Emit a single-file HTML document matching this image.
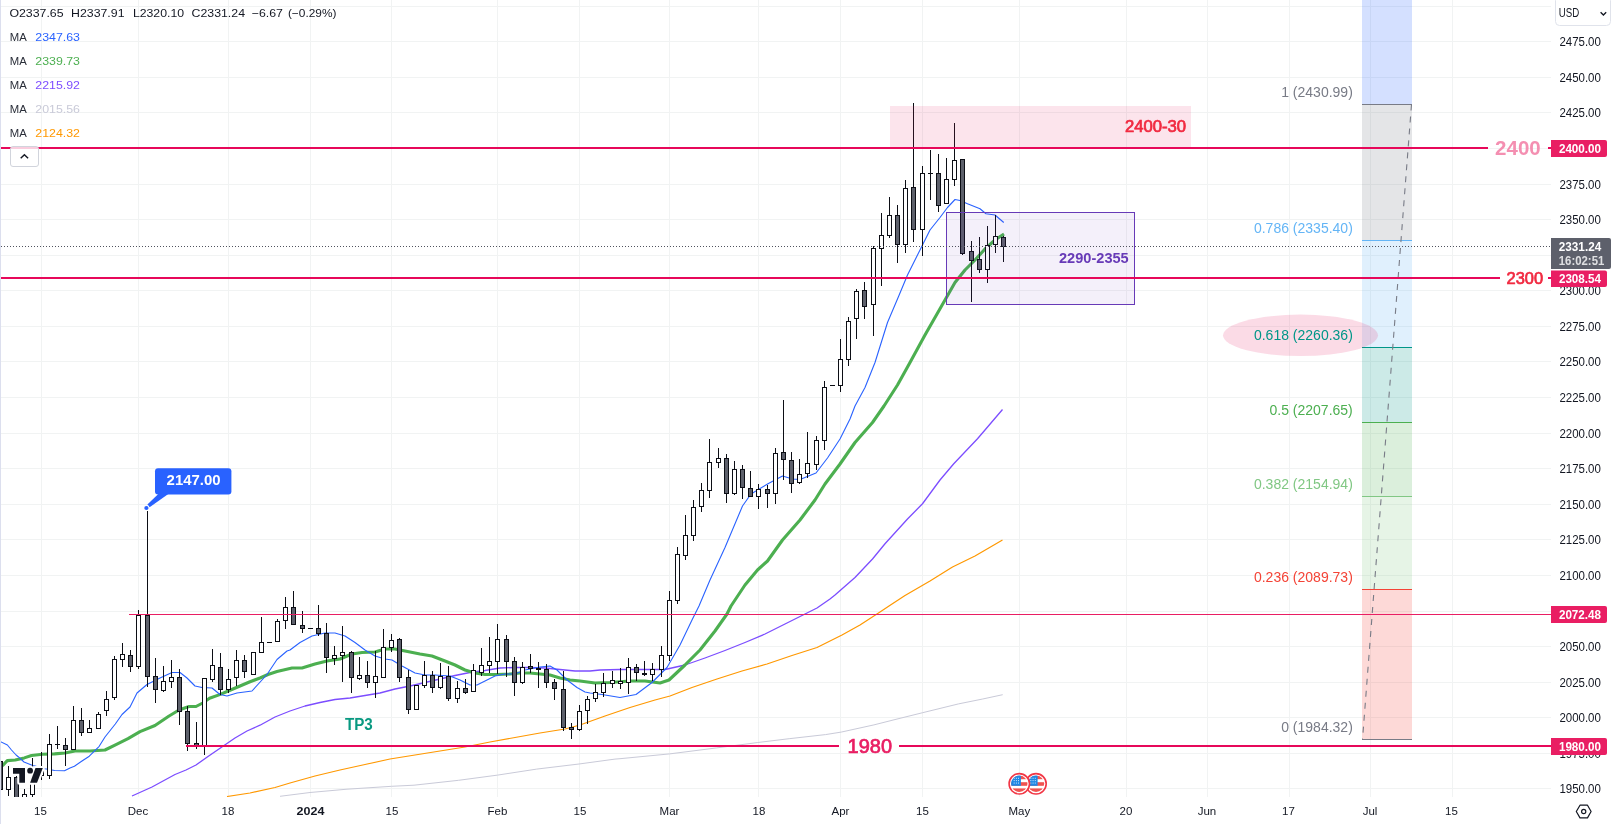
<!DOCTYPE html><html><head><meta charset="utf-8"><title>Chart</title><style>html,body{margin:0;padding:0;background:#fff;overflow:hidden}svg{display:block;will-change:transform}text{font-family:"Liberation Sans",sans-serif}</style></head><body>
<svg width="1613" height="824" viewBox="0 0 1613 824">
<defs><clipPath id="pane"><rect x="0" y="0" width="1551" height="797"/></clipPath><clipPath id="fl"><circle cx="0" cy="0" r="8.2"/></clipPath></defs>
<rect width="1613" height="824" fill="#fff"/>
<g shape-rendering="crispEdges" stroke="#f1f3f3" stroke-width="1">
<line x1="41.5" y1="0" x2="41.5" y2="797"/>
<line x1="138.5" y1="0" x2="138.5" y2="797"/>
<line x1="228.5" y1="0" x2="228.5" y2="797"/>
<line x1="310.5" y1="0" x2="310.5" y2="797"/>
<line x1="391.5" y1="0" x2="391.5" y2="797"/>
<line x1="497.5" y1="0" x2="497.5" y2="797"/>
<line x1="579.5" y1="0" x2="579.5" y2="797"/>
<line x1="669.5" y1="0" x2="669.5" y2="797"/>
<line x1="758.5" y1="0" x2="758.5" y2="797"/>
<line x1="840.5" y1="0" x2="840.5" y2="797"/>
<line x1="922.5" y1="0" x2="922.5" y2="797"/>
<line x1="1019.5" y1="0" x2="1019.5" y2="797"/>
<line x1="1126.5" y1="0" x2="1126.5" y2="797"/>
<line x1="1207.5" y1="0" x2="1207.5" y2="797"/>
<line x1="1289.5" y1="0" x2="1289.5" y2="797"/>
<line x1="1370.5" y1="0" x2="1370.5" y2="797"/>
<line x1="1452.5" y1="0" x2="1452.5" y2="797"/>
<line x1="0" y1="6.5" x2="1551" y2="6.5"/>
<line x1="0" y1="41.5" x2="1551" y2="41.5"/>
<line x1="0" y1="77.5" x2="1551" y2="77.5"/>
<line x1="0" y1="112.5" x2="1551" y2="112.5"/>
<line x1="0" y1="148.5" x2="1551" y2="148.5"/>
<line x1="0" y1="184.5" x2="1551" y2="184.5"/>
<line x1="0" y1="219.5" x2="1551" y2="219.5"/>
<line x1="0" y1="255.5" x2="1551" y2="255.5"/>
<line x1="0" y1="290.5" x2="1551" y2="290.5"/>
<line x1="0" y1="326.5" x2="1551" y2="326.5"/>
<line x1="0" y1="361.5" x2="1551" y2="361.5"/>
<line x1="0" y1="397.5" x2="1551" y2="397.5"/>
<line x1="0" y1="433.5" x2="1551" y2="433.5"/>
<line x1="0" y1="468.5" x2="1551" y2="468.5"/>
<line x1="0" y1="504.5" x2="1551" y2="504.5"/>
<line x1="0" y1="539.5" x2="1551" y2="539.5"/>
<line x1="0" y1="575.5" x2="1551" y2="575.5"/>
<line x1="0" y1="611.5" x2="1551" y2="611.5"/>
<line x1="0" y1="646.5" x2="1551" y2="646.5"/>
<line x1="0" y1="682.5" x2="1551" y2="682.5"/>
<line x1="0" y1="717.5" x2="1551" y2="717.5"/>
<line x1="0" y1="753.5" x2="1551" y2="753.5"/>
<line x1="0" y1="788.5" x2="1551" y2="788.5"/>
</g>
<g clip-path="url(#pane)">
<polyline points="280,796.3 310,792.5 347,789.2 391.6,786.3 414,785.2 458.6,780.3 497.6,775.1 536.7,769.1 579,764 615,759.1 620,758.7 669.6,753.9 716.7,747.9 757.8,742.5 789.2,738.7 825.5,734.6 841.2,732.1 873.9,724.9 898,718.8 922.2,712.8 958.5,703.9 982.7,699 1002.7,694.7" fill="none" stroke="#c9cad8" stroke-width="1" stroke-linejoin="round" stroke-linecap="butt" />
<polyline points="227,796.5 250,793 275,787.5 290,783 315,776 340,770 365,764.5 390,759 415,755 440,751 465,747 490,742 515,737.5 540,733 565,729 580,725 605,716 630,707.5 655,700 670,696 692,687.5 717,679 742,671 767,664 792,655.5 817,647.5 842,635 860,625 880,612 889,606 905,595.5 930,581 952.5,567 975,556 1002.5,540" fill="none" stroke="#ff9800" stroke-width="1.2" stroke-linejoin="round" stroke-linecap="butt" />
<polyline points="132,796 152,787 175,774.5 186,770 196,765 208,756.5 221.5,747.2 235,738 247,731 260,725.2 275,717 290,711 305,706 320,702.5 335,699.5 350,698 365,695.5 380,693 395,689 410,686 425,682.5 440,679 455,675.5 470,672.5 485,670.5 500,668 515,667.5 530,667.5 545,668 560,669.5 575,671 590,671 600,670 620,669.5 642,669.5 665,669.5 685,665 705,658 725,650.5 745,642.5 765,634 785,624 805,614 817,608 830,599 835,595 855,577.5 872.5,559 885,543.75 907.5,519 922.5,503.75 940,480 953.75,463.75 977.5,438.75 1002.5,409.5" fill="none" stroke="#7c4dff" stroke-width="1.3" stroke-linejoin="round" stroke-linecap="butt" />
<polyline points="0.5,766 3,765.2 7.3,760.6 15.2,760 24.3,757.9 31.5,755.5 42.4,754.2 54.6,753.9 65,753 75,751 90,751 105,750 116,744.7 128,738.7 140,731.6 155,725.5 168.7,716.3 179,710 189,706.5 196,706.5 202.7,703 209.5,698.3 219.7,694.6 230,690.3 240,686 250,681.8 260,678 268,674.5 277,671.5 292,668 302,668 315,664 327,661 340,659 352,654 362,652.5 375,652 385,649 395,649 405,651 420,654 432,656 445,661 455,665 465,670 475,673 485,674.5 497,674.5 510,674 520,673 530,673 540,674 550,675 560,678 570,680 580,681 595,683 610,682.5 630,681 645,681 660,683 669,680 685,665 700,650 715,631 727,614 731,606 745,585 757.5,570 767.5,561 782.5,540 800,520 815,500 825,484 840,464 855,442.5 872.5,422.5 884,406 897.5,385 910,362.5 925,335 935,317.5 945,300 955,282.5 965,270 975,260 985,249 995,240 1004,234" fill="none" stroke="#4caf50" stroke-width="3.1" stroke-linejoin="round" stroke-linecap="butt" />
<polyline points="0,741.5 7.4,745 11.5,750 16.1,755 18.2,756.7 24,762 32.7,765.5 35,766 45,768.8 54.6,770.5 64.5,770.8 70,768 74.4,766.2 82,761 89.3,756.2 99.2,746.3 105,737 115.3,724 122,714.5 130,707 137,693 147,684.5 160,678 172,672.5 180,672.5 187,678 195,686 202,687.5 212,688 220,694.5 227,696 237,693 252,691 267,674.5 277,659.5 287,651 290,650 300,642.5 312,636 325,633 335,633 345,636 355,642.5 365,650 375,656 385,659 392,660 402,666 415,673 425,675 435,675 450,676 460,680 470,685 477,685 485,681 495,676 505,674 515,674 525,670 540,667 550,666 557,670 567,680 577,687.5 585,692 590,693 602,694.5 620,697.5 636,694.5 652,682.5 667,667.5 680,645 692,620 699,606 710,580 725,547.5 742.5,506 751,494 767.5,484 782.5,476 792.5,479 800,479.5 816,473 827.5,458 840,439 850,419 855,406 865,387.5 875,362.5 887.5,322.5 898.75,296 907.5,275 920,250 930,230 940,217.5 947.5,207.5 955,199.5 960,200.5 967.5,203.75 980,208.75 986,213.75 995,215 1003.75,222.5" fill="none" stroke="#2962ff" stroke-width="1.1" stroke-linejoin="round" stroke-linecap="butt" />
<g shape-rendering="crispEdges">
<rect x="0.0" y="762" width="1" height="28" fill="#0c0e15"/>
<rect x="-2.0" y="761" width="5" height="29" fill="#0c0e15"/>
<rect x="-1.0" y="762" width="3" height="27" fill="#5d606b"/>
<rect x="8.0" y="766" width="1" height="30" fill="#0c0e15"/>
<rect x="6.0" y="777" width="5" height="13" fill="#0c0e15"/>
<rect x="7.0" y="778" width="3" height="11" fill="#ffffff"/>
<rect x="16.0" y="776" width="1" height="24" fill="#0c0e15"/>
<rect x="14.0" y="777" width="5" height="23" fill="#0c0e15"/>
<rect x="15.0" y="778" width="3" height="21" fill="#5d606b"/>
<rect x="24.0" y="789" width="1" height="11" fill="#0c0e15"/>
<rect x="22.0" y="794" width="5" height="6" fill="#0c0e15"/>
<rect x="23.0" y="795" width="3" height="4" fill="#ffffff"/>
<rect x="32.0" y="758" width="1" height="39" fill="#0c0e15"/>
<rect x="30.0" y="779" width="5" height="16" fill="#0c0e15"/>
<rect x="31.0" y="780" width="3" height="14" fill="#ffffff"/>
<rect x="41.0" y="752" width="1" height="28" fill="#0c0e15"/>
<rect x="39.0" y="771" width="5" height="5" fill="#0c0e15"/>
<rect x="40.0" y="772" width="3" height="3" fill="#ffffff"/>
<rect x="49.0" y="734" width="1" height="45" fill="#0c0e15"/>
<rect x="47.0" y="744" width="5" height="32" fill="#0c0e15"/>
<rect x="48.0" y="745" width="3" height="30" fill="#ffffff"/>
<rect x="57.0" y="726" width="1" height="23" fill="#0c0e15"/>
<rect x="55.0" y="744" width="5" height="1" fill="#0c0e15"/>
<rect x="65.0" y="738" width="1" height="28" fill="#0c0e15"/>
<rect x="63.0" y="745" width="5" height="5" fill="#0c0e15"/>
<rect x="64.0" y="746" width="3" height="3" fill="#5d606b"/>
<rect x="73.0" y="706" width="1" height="44" fill="#0c0e15"/>
<rect x="71.0" y="720" width="5" height="30" fill="#0c0e15"/>
<rect x="72.0" y="721" width="3" height="28" fill="#ffffff"/>
<rect x="81.0" y="708" width="1" height="28" fill="#0c0e15"/>
<rect x="79.0" y="720" width="5" height="13" fill="#0c0e15"/>
<rect x="80.0" y="721" width="3" height="11" fill="#5d606b"/>
<rect x="89.0" y="720" width="1" height="13" fill="#0c0e15"/>
<rect x="87.0" y="728" width="5" height="5" fill="#0c0e15"/>
<rect x="88.0" y="729" width="3" height="3" fill="#ffffff"/>
<rect x="98.0" y="712" width="1" height="17" fill="#0c0e15"/>
<rect x="96.0" y="714" width="5" height="15" fill="#0c0e15"/>
<rect x="97.0" y="715" width="3" height="13" fill="#ffffff"/>
<rect x="106.0" y="691" width="1" height="25" fill="#0c0e15"/>
<rect x="104.0" y="699" width="5" height="12" fill="#0c0e15"/>
<rect x="105.0" y="700" width="3" height="10" fill="#ffffff"/>
<rect x="114.0" y="656" width="1" height="44" fill="#0c0e15"/>
<rect x="112.0" y="659" width="5" height="39" fill="#0c0e15"/>
<rect x="113.0" y="660" width="3" height="37" fill="#ffffff"/>
<rect x="122.0" y="643" width="1" height="24" fill="#0c0e15"/>
<rect x="120.0" y="654" width="5" height="6" fill="#0c0e15"/>
<rect x="121.0" y="655" width="3" height="4" fill="#ffffff"/>
<rect x="130.0" y="650" width="1" height="22" fill="#0c0e15"/>
<rect x="128.0" y="655" width="5" height="12" fill="#0c0e15"/>
<rect x="129.0" y="656" width="3" height="10" fill="#5d606b"/>
<rect x="138.0" y="610" width="1" height="59" fill="#0c0e15"/>
<rect x="136.0" y="615" width="5" height="52" fill="#0c0e15"/>
<rect x="137.0" y="616" width="3" height="50" fill="#ffffff"/>
<rect x="147.0" y="511" width="1" height="176" fill="#0c0e15"/>
<rect x="145.0" y="615" width="5" height="62" fill="#0c0e15"/>
<rect x="146.0" y="616" width="3" height="60" fill="#5d606b"/>
<rect x="155.0" y="658" width="1" height="45" fill="#0c0e15"/>
<rect x="153.0" y="676" width="5" height="14" fill="#0c0e15"/>
<rect x="154.0" y="677" width="3" height="12" fill="#5d606b"/>
<rect x="163.0" y="666" width="1" height="26" fill="#0c0e15"/>
<rect x="161.0" y="681" width="5" height="10" fill="#0c0e15"/>
<rect x="162.0" y="682" width="3" height="8" fill="#ffffff"/>
<rect x="171.0" y="660" width="1" height="28" fill="#0c0e15"/>
<rect x="169.0" y="677" width="5" height="5" fill="#0c0e15"/>
<rect x="170.0" y="678" width="3" height="3" fill="#ffffff"/>
<rect x="179.0" y="669" width="1" height="56" fill="#0c0e15"/>
<rect x="177.0" y="677" width="5" height="35" fill="#0c0e15"/>
<rect x="178.0" y="678" width="3" height="33" fill="#5d606b"/>
<rect x="187.0" y="706" width="1" height="45" fill="#0c0e15"/>
<rect x="185.0" y="711" width="5" height="33" fill="#0c0e15"/>
<rect x="186.0" y="712" width="3" height="31" fill="#5d606b"/>
<rect x="196.0" y="722" width="1" height="27" fill="#0c0e15"/>
<rect x="194.0" y="743" width="5" height="3" fill="#0c0e15"/>
<rect x="195.0" y="744" width="3" height="1" fill="#5d606b"/>
<rect x="204.0" y="678" width="1" height="77" fill="#0c0e15"/>
<rect x="202.0" y="678" width="5" height="68" fill="#0c0e15"/>
<rect x="203.0" y="679" width="3" height="66" fill="#ffffff"/>
<rect x="212.0" y="649" width="1" height="33" fill="#0c0e15"/>
<rect x="210.0" y="665" width="5" height="15" fill="#0c0e15"/>
<rect x="211.0" y="666" width="3" height="13" fill="#ffffff"/>
<rect x="220.0" y="653" width="1" height="42" fill="#0c0e15"/>
<rect x="218.0" y="667" width="5" height="23" fill="#0c0e15"/>
<rect x="219.0" y="668" width="3" height="21" fill="#5d606b"/>
<rect x="228.0" y="669" width="1" height="24" fill="#0c0e15"/>
<rect x="226.0" y="679" width="5" height="11" fill="#0c0e15"/>
<rect x="227.0" y="680" width="3" height="9" fill="#ffffff"/>
<rect x="236.0" y="650" width="1" height="36" fill="#0c0e15"/>
<rect x="234.0" y="660" width="5" height="18" fill="#0c0e15"/>
<rect x="235.0" y="661" width="3" height="16" fill="#ffffff"/>
<rect x="244.0" y="655" width="1" height="23" fill="#0c0e15"/>
<rect x="242.0" y="660" width="5" height="12" fill="#0c0e15"/>
<rect x="243.0" y="661" width="3" height="10" fill="#5d606b"/>
<rect x="253.0" y="652" width="1" height="23" fill="#0c0e15"/>
<rect x="251.0" y="652" width="5" height="23" fill="#0c0e15"/>
<rect x="252.0" y="653" width="3" height="21" fill="#ffffff"/>
<rect x="261.0" y="617" width="1" height="36" fill="#0c0e15"/>
<rect x="259.0" y="642" width="5" height="11" fill="#0c0e15"/>
<rect x="260.0" y="643" width="3" height="9" fill="#ffffff"/>
<rect x="267.0" y="642" width="5" height="1" fill="#0c0e15"/>
<rect x="277.0" y="619" width="1" height="23" fill="#0c0e15"/>
<rect x="275.0" y="621" width="5" height="21" fill="#0c0e15"/>
<rect x="276.0" y="622" width="3" height="19" fill="#ffffff"/>
<rect x="285.0" y="597" width="1" height="32" fill="#0c0e15"/>
<rect x="283.0" y="607" width="5" height="14" fill="#0c0e15"/>
<rect x="284.0" y="608" width="3" height="12" fill="#ffffff"/>
<rect x="293.0" y="591" width="1" height="34" fill="#0c0e15"/>
<rect x="291.0" y="607" width="5" height="18" fill="#0c0e15"/>
<rect x="292.0" y="608" width="3" height="16" fill="#5d606b"/>
<rect x="302.0" y="611" width="1" height="22" fill="#0c0e15"/>
<rect x="300.0" y="625" width="5" height="4" fill="#0c0e15"/>
<rect x="301.0" y="626" width="3" height="2" fill="#5d606b"/>
<rect x="308.0" y="628" width="5" height="1" fill="#0c0e15"/>
<rect x="318.0" y="605" width="1" height="31" fill="#0c0e15"/>
<rect x="316.0" y="628" width="5" height="6" fill="#0c0e15"/>
<rect x="317.0" y="629" width="3" height="4" fill="#5d606b"/>
<rect x="326.0" y="623" width="1" height="50" fill="#0c0e15"/>
<rect x="324.0" y="633" width="5" height="25" fill="#0c0e15"/>
<rect x="325.0" y="634" width="3" height="23" fill="#5d606b"/>
<rect x="334.0" y="646" width="1" height="19" fill="#0c0e15"/>
<rect x="332.0" y="655" width="5" height="4" fill="#0c0e15"/>
<rect x="333.0" y="656" width="3" height="2" fill="#ffffff"/>
<rect x="342.0" y="626" width="1" height="56" fill="#0c0e15"/>
<rect x="340.0" y="652" width="5" height="4" fill="#0c0e15"/>
<rect x="341.0" y="653" width="3" height="2" fill="#ffffff"/>
<rect x="351.0" y="651" width="1" height="42" fill="#0c0e15"/>
<rect x="349.0" y="652" width="5" height="26" fill="#0c0e15"/>
<rect x="350.0" y="653" width="3" height="24" fill="#5d606b"/>
<rect x="359.0" y="657" width="1" height="23" fill="#0c0e15"/>
<rect x="357.0" y="675" width="5" height="4" fill="#0c0e15"/>
<rect x="358.0" y="676" width="3" height="2" fill="#ffffff"/>
<rect x="367.0" y="661" width="1" height="27" fill="#0c0e15"/>
<rect x="365.0" y="675" width="5" height="8" fill="#0c0e15"/>
<rect x="366.0" y="676" width="3" height="6" fill="#5d606b"/>
<rect x="375.0" y="651" width="1" height="47" fill="#0c0e15"/>
<rect x="373.0" y="676" width="5" height="7" fill="#0c0e15"/>
<rect x="374.0" y="677" width="3" height="5" fill="#ffffff"/>
<rect x="383.0" y="629" width="1" height="49" fill="#0c0e15"/>
<rect x="381.0" y="647" width="5" height="31" fill="#0c0e15"/>
<rect x="382.0" y="648" width="3" height="29" fill="#ffffff"/>
<rect x="391.0" y="634" width="1" height="18" fill="#0c0e15"/>
<rect x="389.0" y="640" width="5" height="8" fill="#0c0e15"/>
<rect x="390.0" y="641" width="3" height="6" fill="#ffffff"/>
<rect x="399.0" y="638" width="1" height="44" fill="#0c0e15"/>
<rect x="397.0" y="639" width="5" height="39" fill="#0c0e15"/>
<rect x="398.0" y="640" width="3" height="37" fill="#5d606b"/>
<rect x="408.0" y="670" width="1" height="44" fill="#0c0e15"/>
<rect x="406.0" y="677" width="5" height="33" fill="#0c0e15"/>
<rect x="407.0" y="678" width="3" height="31" fill="#5d606b"/>
<rect x="416.0" y="685" width="1" height="25" fill="#0c0e15"/>
<rect x="414.0" y="685" width="5" height="25" fill="#0c0e15"/>
<rect x="415.0" y="686" width="3" height="23" fill="#ffffff"/>
<rect x="424.0" y="661" width="1" height="27" fill="#0c0e15"/>
<rect x="422.0" y="675" width="5" height="11" fill="#0c0e15"/>
<rect x="423.0" y="676" width="3" height="9" fill="#ffffff"/>
<rect x="432.0" y="671" width="1" height="22" fill="#0c0e15"/>
<rect x="430.0" y="675" width="5" height="13" fill="#0c0e15"/>
<rect x="431.0" y="676" width="3" height="11" fill="#5d606b"/>
<rect x="440.0" y="663" width="1" height="26" fill="#0c0e15"/>
<rect x="438.0" y="676" width="5" height="12" fill="#0c0e15"/>
<rect x="439.0" y="677" width="3" height="10" fill="#ffffff"/>
<rect x="448.0" y="666" width="1" height="35" fill="#0c0e15"/>
<rect x="446.0" y="676" width="5" height="23" fill="#0c0e15"/>
<rect x="447.0" y="677" width="3" height="21" fill="#5d606b"/>
<rect x="457.0" y="681" width="1" height="22" fill="#0c0e15"/>
<rect x="455.0" y="688" width="5" height="11" fill="#0c0e15"/>
<rect x="456.0" y="689" width="3" height="9" fill="#ffffff"/>
<rect x="465.0" y="679" width="1" height="15" fill="#0c0e15"/>
<rect x="463.0" y="688" width="5" height="5" fill="#0c0e15"/>
<rect x="464.0" y="689" width="3" height="3" fill="#5d606b"/>
<rect x="473.0" y="664" width="1" height="28" fill="#0c0e15"/>
<rect x="471.0" y="670" width="5" height="22" fill="#0c0e15"/>
<rect x="472.0" y="671" width="3" height="20" fill="#ffffff"/>
<rect x="481.0" y="648" width="1" height="28" fill="#0c0e15"/>
<rect x="479.0" y="665" width="5" height="8" fill="#0c0e15"/>
<rect x="480.0" y="666" width="3" height="6" fill="#ffffff"/>
<rect x="489.0" y="637" width="1" height="36" fill="#0c0e15"/>
<rect x="487.0" y="661" width="5" height="5" fill="#0c0e15"/>
<rect x="488.0" y="662" width="3" height="3" fill="#ffffff"/>
<rect x="497.0" y="624" width="1" height="50" fill="#0c0e15"/>
<rect x="495.0" y="639" width="5" height="23" fill="#0c0e15"/>
<rect x="496.0" y="640" width="3" height="21" fill="#ffffff"/>
<rect x="506.0" y="635" width="1" height="42" fill="#0c0e15"/>
<rect x="504.0" y="639" width="5" height="23" fill="#0c0e15"/>
<rect x="505.0" y="640" width="3" height="21" fill="#5d606b"/>
<rect x="514.0" y="657" width="1" height="39" fill="#0c0e15"/>
<rect x="512.0" y="661" width="5" height="22" fill="#0c0e15"/>
<rect x="513.0" y="662" width="3" height="20" fill="#5d606b"/>
<rect x="522.0" y="662" width="1" height="22" fill="#0c0e15"/>
<rect x="520.0" y="667" width="5" height="16" fill="#0c0e15"/>
<rect x="521.0" y="668" width="3" height="14" fill="#ffffff"/>
<rect x="530.0" y="654" width="1" height="19" fill="#0c0e15"/>
<rect x="528.0" y="666" width="5" height="3" fill="#0c0e15"/>
<rect x="529.0" y="667" width="3" height="1" fill="#5d606b"/>
<rect x="538.0" y="662" width="1" height="26" fill="#0c0e15"/>
<rect x="536.0" y="668" width="5" height="2" fill="#0c0e15"/>
<rect x="546.0" y="664" width="1" height="24" fill="#0c0e15"/>
<rect x="544.0" y="669" width="5" height="14" fill="#0c0e15"/>
<rect x="545.0" y="670" width="3" height="12" fill="#5d606b"/>
<rect x="554.0" y="679" width="1" height="21" fill="#0c0e15"/>
<rect x="552.0" y="682" width="5" height="7" fill="#0c0e15"/>
<rect x="553.0" y="683" width="3" height="5" fill="#5d606b"/>
<rect x="563.0" y="671" width="1" height="60" fill="#0c0e15"/>
<rect x="561.0" y="689" width="5" height="39" fill="#0c0e15"/>
<rect x="562.0" y="690" width="3" height="37" fill="#5d606b"/>
<rect x="571.0" y="723" width="1" height="16" fill="#0c0e15"/>
<rect x="569.0" y="727" width="5" height="3" fill="#0c0e15"/>
<rect x="570.0" y="728" width="3" height="1" fill="#5d606b"/>
<rect x="579.0" y="705" width="1" height="26" fill="#0c0e15"/>
<rect x="577.0" y="711" width="5" height="19" fill="#0c0e15"/>
<rect x="578.0" y="712" width="3" height="17" fill="#ffffff"/>
<rect x="587.0" y="696" width="1" height="28" fill="#0c0e15"/>
<rect x="585.0" y="699" width="5" height="12" fill="#0c0e15"/>
<rect x="586.0" y="700" width="3" height="10" fill="#ffffff"/>
<rect x="595.0" y="684" width="1" height="18" fill="#0c0e15"/>
<rect x="593.0" y="692" width="5" height="7" fill="#0c0e15"/>
<rect x="594.0" y="693" width="3" height="5" fill="#ffffff"/>
<rect x="603.0" y="673" width="1" height="24" fill="#0c0e15"/>
<rect x="601.0" y="683" width="5" height="10" fill="#0c0e15"/>
<rect x="602.0" y="684" width="3" height="8" fill="#ffffff"/>
<rect x="612.0" y="671" width="1" height="17" fill="#0c0e15"/>
<rect x="610.0" y="680" width="5" height="4" fill="#0c0e15"/>
<rect x="611.0" y="681" width="3" height="2" fill="#ffffff"/>
<rect x="620.0" y="668" width="1" height="21" fill="#0c0e15"/>
<rect x="618.0" y="681" width="5" height="3" fill="#0c0e15"/>
<rect x="619.0" y="682" width="3" height="1" fill="#ffffff"/>
<rect x="628.0" y="658" width="1" height="36" fill="#0c0e15"/>
<rect x="626.0" y="667" width="5" height="16" fill="#0c0e15"/>
<rect x="627.0" y="668" width="3" height="14" fill="#ffffff"/>
<rect x="636.0" y="664" width="1" height="17" fill="#0c0e15"/>
<rect x="634.0" y="667" width="5" height="6" fill="#0c0e15"/>
<rect x="635.0" y="668" width="3" height="4" fill="#5d606b"/>
<rect x="644.0" y="661" width="1" height="15" fill="#0c0e15"/>
<rect x="642.0" y="673" width="5" height="2" fill="#0c0e15"/>
<rect x="652.0" y="663" width="1" height="18" fill="#0c0e15"/>
<rect x="650.0" y="669" width="5" height="6" fill="#0c0e15"/>
<rect x="651.0" y="670" width="3" height="4" fill="#ffffff"/>
<rect x="661.0" y="646" width="1" height="31" fill="#0c0e15"/>
<rect x="659.0" y="655" width="5" height="15" fill="#0c0e15"/>
<rect x="660.0" y="656" width="3" height="13" fill="#ffffff"/>
<rect x="669.0" y="591" width="1" height="70" fill="#0c0e15"/>
<rect x="667.0" y="600" width="5" height="56" fill="#0c0e15"/>
<rect x="668.0" y="601" width="3" height="54" fill="#ffffff"/>
<rect x="677.0" y="547" width="1" height="57" fill="#0c0e15"/>
<rect x="675.0" y="554" width="5" height="47" fill="#0c0e15"/>
<rect x="676.0" y="555" width="3" height="45" fill="#ffffff"/>
<rect x="685.0" y="515" width="1" height="45" fill="#0c0e15"/>
<rect x="683.0" y="535" width="5" height="21" fill="#0c0e15"/>
<rect x="684.0" y="536" width="3" height="19" fill="#ffffff"/>
<rect x="693.0" y="500" width="1" height="41" fill="#0c0e15"/>
<rect x="691.0" y="507" width="5" height="29" fill="#0c0e15"/>
<rect x="692.0" y="508" width="3" height="27" fill="#ffffff"/>
<rect x="701.0" y="483" width="1" height="29" fill="#0c0e15"/>
<rect x="699.0" y="490" width="5" height="17" fill="#0c0e15"/>
<rect x="700.0" y="491" width="3" height="15" fill="#ffffff"/>
<rect x="709.0" y="439" width="1" height="59" fill="#0c0e15"/>
<rect x="707.0" y="462" width="5" height="29" fill="#0c0e15"/>
<rect x="708.0" y="463" width="3" height="27" fill="#ffffff"/>
<rect x="718.0" y="448" width="1" height="20" fill="#0c0e15"/>
<rect x="716.0" y="458" width="5" height="5" fill="#0c0e15"/>
<rect x="717.0" y="459" width="3" height="3" fill="#ffffff"/>
<rect x="726.0" y="454" width="1" height="49" fill="#0c0e15"/>
<rect x="724.0" y="458" width="5" height="36" fill="#0c0e15"/>
<rect x="725.0" y="459" width="3" height="34" fill="#5d606b"/>
<rect x="734.0" y="461" width="1" height="34" fill="#0c0e15"/>
<rect x="732.0" y="469" width="5" height="25" fill="#0c0e15"/>
<rect x="733.0" y="470" width="3" height="23" fill="#ffffff"/>
<rect x="742.0" y="465" width="1" height="34" fill="#0c0e15"/>
<rect x="740.0" y="469" width="5" height="19" fill="#0c0e15"/>
<rect x="741.0" y="470" width="3" height="17" fill="#5d606b"/>
<rect x="750.0" y="471" width="1" height="26" fill="#0c0e15"/>
<rect x="748.0" y="488" width="5" height="9" fill="#0c0e15"/>
<rect x="749.0" y="489" width="3" height="7" fill="#5d606b"/>
<rect x="758.0" y="484" width="1" height="25" fill="#0c0e15"/>
<rect x="756.0" y="489" width="5" height="8" fill="#0c0e15"/>
<rect x="757.0" y="490" width="3" height="6" fill="#ffffff"/>
<rect x="767.0" y="485" width="1" height="23" fill="#0c0e15"/>
<rect x="765.0" y="489" width="5" height="5" fill="#0c0e15"/>
<rect x="766.0" y="490" width="3" height="3" fill="#5d606b"/>
<rect x="775.0" y="448" width="1" height="56" fill="#0c0e15"/>
<rect x="773.0" y="453" width="5" height="41" fill="#0c0e15"/>
<rect x="774.0" y="454" width="3" height="39" fill="#ffffff"/>
<rect x="783.0" y="400" width="1" height="80" fill="#0c0e15"/>
<rect x="781.0" y="452" width="5" height="8" fill="#0c0e15"/>
<rect x="782.0" y="453" width="3" height="6" fill="#5d606b"/>
<rect x="791.0" y="452" width="1" height="41" fill="#0c0e15"/>
<rect x="789.0" y="460" width="5" height="24" fill="#0c0e15"/>
<rect x="790.0" y="461" width="3" height="22" fill="#5d606b"/>
<rect x="799.0" y="459" width="1" height="25" fill="#0c0e15"/>
<rect x="797.0" y="474" width="5" height="9" fill="#0c0e15"/>
<rect x="798.0" y="475" width="3" height="7" fill="#ffffff"/>
<rect x="807.0" y="432" width="1" height="46" fill="#0c0e15"/>
<rect x="805.0" y="463" width="5" height="11" fill="#0c0e15"/>
<rect x="806.0" y="464" width="3" height="9" fill="#ffffff"/>
<rect x="816.0" y="436" width="1" height="34" fill="#0c0e15"/>
<rect x="814.0" y="440" width="5" height="25" fill="#0c0e15"/>
<rect x="815.0" y="441" width="3" height="23" fill="#ffffff"/>
<rect x="824.0" y="381" width="1" height="69" fill="#0c0e15"/>
<rect x="822.0" y="387" width="5" height="54" fill="#0c0e15"/>
<rect x="823.0" y="388" width="3" height="52" fill="#ffffff"/>
<rect x="830.0" y="385" width="5" height="1" fill="#0c0e15"/>
<rect x="840.0" y="339" width="1" height="53" fill="#0c0e15"/>
<rect x="838.0" y="359" width="5" height="27" fill="#0c0e15"/>
<rect x="839.0" y="360" width="3" height="25" fill="#ffffff"/>
<rect x="848.0" y="317" width="1" height="49" fill="#0c0e15"/>
<rect x="846.0" y="321" width="5" height="39" fill="#0c0e15"/>
<rect x="847.0" y="322" width="3" height="37" fill="#ffffff"/>
<rect x="856.0" y="289" width="1" height="50" fill="#0c0e15"/>
<rect x="854.0" y="291" width="5" height="28" fill="#0c0e15"/>
<rect x="855.0" y="292" width="3" height="26" fill="#ffffff"/>
<rect x="864.0" y="282" width="1" height="37" fill="#0c0e15"/>
<rect x="862.0" y="290" width="5" height="17" fill="#0c0e15"/>
<rect x="863.0" y="291" width="3" height="15" fill="#5d606b"/>
<rect x="873.0" y="246" width="1" height="90" fill="#0c0e15"/>
<rect x="871.0" y="248" width="5" height="57" fill="#0c0e15"/>
<rect x="872.0" y="249" width="3" height="55" fill="#ffffff"/>
<rect x="881.0" y="213" width="1" height="73" fill="#0c0e15"/>
<rect x="879.0" y="235" width="5" height="14" fill="#0c0e15"/>
<rect x="880.0" y="236" width="3" height="12" fill="#ffffff"/>
<rect x="889.0" y="197" width="1" height="41" fill="#0c0e15"/>
<rect x="887.0" y="215" width="5" height="21" fill="#0c0e15"/>
<rect x="888.0" y="216" width="3" height="19" fill="#ffffff"/>
<rect x="897.0" y="205" width="1" height="58" fill="#0c0e15"/>
<rect x="895.0" y="215" width="5" height="30" fill="#0c0e15"/>
<rect x="896.0" y="216" width="3" height="28" fill="#5d606b"/>
<rect x="905.0" y="180" width="1" height="73" fill="#0c0e15"/>
<rect x="903.0" y="188" width="5" height="57" fill="#0c0e15"/>
<rect x="904.0" y="189" width="3" height="55" fill="#ffffff"/>
<rect x="913.0" y="103" width="1" height="139" fill="#0c0e15"/>
<rect x="911.0" y="187" width="5" height="43" fill="#0c0e15"/>
<rect x="912.0" y="188" width="3" height="41" fill="#5d606b"/>
<rect x="922.0" y="166" width="1" height="90" fill="#0c0e15"/>
<rect x="920.0" y="173" width="5" height="57" fill="#0c0e15"/>
<rect x="921.0" y="174" width="3" height="55" fill="#ffffff"/>
<rect x="930.0" y="150" width="1" height="50" fill="#0c0e15"/>
<rect x="928.0" y="173" width="5" height="1" fill="#0c0e15"/>
<rect x="938.0" y="154" width="1" height="58" fill="#0c0e15"/>
<rect x="936.0" y="173" width="5" height="33" fill="#0c0e15"/>
<rect x="937.0" y="174" width="3" height="31" fill="#5d606b"/>
<rect x="946.0" y="158" width="1" height="46" fill="#0c0e15"/>
<rect x="944.0" y="179" width="5" height="25" fill="#0c0e15"/>
<rect x="945.0" y="180" width="3" height="23" fill="#ffffff"/>
<rect x="954.0" y="123" width="1" height="63" fill="#0c0e15"/>
<rect x="952.0" y="160" width="5" height="20" fill="#0c0e15"/>
<rect x="953.0" y="161" width="3" height="18" fill="#ffffff"/>
<rect x="962.0" y="159" width="1" height="96" fill="#0c0e15"/>
<rect x="960.0" y="159" width="5" height="95" fill="#0c0e15"/>
<rect x="961.0" y="160" width="3" height="93" fill="#5d606b"/>
<rect x="971.0" y="241" width="1" height="61" fill="#0c0e15"/>
<rect x="969.0" y="251" width="5" height="10" fill="#0c0e15"/>
<rect x="970.0" y="252" width="3" height="8" fill="#5d606b"/>
<rect x="979.0" y="237" width="1" height="36" fill="#0c0e15"/>
<rect x="977.0" y="259" width="5" height="11" fill="#0c0e15"/>
<rect x="978.0" y="260" width="3" height="9" fill="#5d606b"/>
<rect x="987.0" y="226" width="1" height="57" fill="#0c0e15"/>
<rect x="985.0" y="245" width="5" height="25" fill="#0c0e15"/>
<rect x="986.0" y="246" width="3" height="23" fill="#ffffff"/>
<rect x="995.0" y="215" width="1" height="38" fill="#0c0e15"/>
<rect x="993.0" y="236" width="5" height="9" fill="#0c0e15"/>
<rect x="994.0" y="237" width="3" height="7" fill="#ffffff"/>
<rect x="1003.0" y="236" width="1" height="26" fill="#0c0e15"/>
<rect x="1001.0" y="237" width="5" height="10" fill="#0c0e15"/>
<rect x="1002.0" y="238" width="3" height="8" fill="#5d606b"/>
</g>
<rect x="0" y="0" width="1" height="797" fill="#dcdfee" shape-rendering="crispEdges"/>
<rect x="890" y="106" width="301" height="42" fill="#e91e63" fill-opacity="0.12"/>
<rect x="946.5" y="212.5" width="188" height="92" fill="#673ab7" fill-opacity="0.075" stroke="#673ab7" stroke-width="1"/>
<rect x="1362" y="0.0" width="50" height="104.5" fill="#2962ff" fill-opacity="0.2"/>
<rect x="1362" y="104.5" width="50" height="135.9" fill="#787b86" fill-opacity="0.2"/>
<rect x="1362" y="240.4" width="50" height="106.7" fill="#64b5f6" fill-opacity="0.2"/>
<rect x="1362" y="347.1" width="50" height="74.9" fill="#009688" fill-opacity="0.2"/>
<rect x="1362" y="422.0" width="50" height="74.9" fill="#4caf50" fill-opacity="0.2"/>
<rect x="1362" y="496.9" width="50" height="92.7" fill="#81c784" fill-opacity="0.2"/>
<rect x="1362" y="589.6" width="50" height="149.9" fill="#f44336" fill-opacity="0.2"/>
<line x1="1362" y1="104.5" x2="1412" y2="104.5" stroke="#787b86" stroke-width="1" shape-rendering="crispEdges"/>
<line x1="1362" y1="240.5" x2="1412" y2="240.5" stroke="#64b5f6" stroke-width="1" shape-rendering="crispEdges"/>
<line x1="1362" y1="347.5" x2="1412" y2="347.5" stroke="#009688" stroke-width="1" shape-rendering="crispEdges"/>
<line x1="1362" y1="422.5" x2="1412" y2="422.5" stroke="#4caf50" stroke-width="1" shape-rendering="crispEdges"/>
<line x1="1362" y1="496.5" x2="1412" y2="496.5" stroke="#81c784" stroke-width="1" shape-rendering="crispEdges"/>
<line x1="1362" y1="589.5" x2="1412" y2="589.5" stroke="#f44336" stroke-width="1" shape-rendering="crispEdges"/>
<line x1="1362" y1="739.5" x2="1412" y2="739.5" stroke="#787b86" stroke-width="1" shape-rendering="crispEdges"/>
<line x1="1411.5" y1="104.5" x2="1362.5" y2="739.5" stroke="#787b86" stroke-width="1.1" stroke-dasharray="6,6"/>
<ellipse cx="1300.5" cy="335.3" rx="77.5" ry="20.7" fill="#e91e63" fill-opacity="0.16"/>
<g shape-rendering="crispEdges" fill="#e7085a">
<rect x="1" y="147" width="1486.5" height="2"/><rect x="1548" y="147" width="3" height="2"/>
<rect x="1" y="277" width="1498.5" height="2"/><rect x="1548" y="277" width="3" height="2"/>
<rect x="129" y="614" width="1422" height="1" fill="#e91e63"/>
<rect x="186" y="745" width="653" height="2"/><rect x="899" y="745" width="652" height="2"/>
</g>
<line x1="1" y1="246.5" x2="1551" y2="246.5" stroke="#50535e" stroke-width="1" stroke-dasharray="1,2" shape-rendering="crispEdges"/>
<text x="847.6" y="752.9" font-size="19.5" fill="#e91e63" textLength="44.4" lengthAdjust="spacingAndGlyphs" stroke="#e91e63" stroke-width="0.7">1980</text>
<text x="1495.1" y="155.1" font-size="20" fill="#f48fb1" font-weight="bold" textLength="45.6" lengthAdjust="spacingAndGlyphs" >2400</text>
<text x="1506.5" y="284.1" font-size="16" fill="#f12a41" textLength="36.5" lengthAdjust="spacingAndGlyphs" stroke="#f12a41" stroke-width="0.7">2300</text>
<text x="1124.9" y="132.3" font-size="16" fill="#f12a41" textLength="61.1" lengthAdjust="spacingAndGlyphs" stroke="#f12a41" stroke-width="0.7">2400-30</text>
<text x="1059" y="263.1" font-size="14.5" fill="#673ab7" font-weight="bold" textLength="69.7" lengthAdjust="spacingAndGlyphs" >2290-2355</text>
<text x="344.9" y="729.9" font-size="16" fill="#089981" font-weight="bold" textLength="27.8" lengthAdjust="spacingAndGlyphs" >TP3</text>
<text x="1352.8" y="97.3" font-size="14" fill="#787b86" text-anchor="end" >1 (2430.99)</text>
<text x="1352.8" y="233.3" font-size="14" fill="#64b5f6" text-anchor="end" >0.786 (2335.40)</text>
<text x="1352.8" y="340.3" font-size="14" fill="#009688" text-anchor="end" >0.618 (2260.36)</text>
<text x="1352.8" y="415.3" font-size="14" fill="#4caf50" text-anchor="end" >0.5 (2207.65)</text>
<text x="1352.8" y="489.3" font-size="14" fill="#81c784" text-anchor="end" >0.382 (2154.94)</text>
<text x="1352.8" y="582.3" font-size="14" fill="#f44336" text-anchor="end" >0.236 (2089.73)</text>
<text x="1352.8" y="732.3" font-size="14" fill="#787b86" text-anchor="end" >0 (1984.32)</text>
<rect x="155" y="468.3" width="76.4" height="26.2" rx="3" fill="#2962ff"/>
<path d="M158.3,494 L168.3,494 L149.6,507.3 L147.4,504.6 Z" fill="#2962ff"/>
<circle cx="146.4" cy="508" r="3" fill="#fff"/>
<circle cx="146.4" cy="508" r="2.1" fill="#2962ff"/>
<text x="166.6" y="485.1" font-size="14" fill="#fff" font-weight="bold" textLength="53.9" lengthAdjust="spacingAndGlyphs" >2147.00</text>
<g transform="translate(1036,783.8)">
<circle r="10.2" fill="#fff" stroke="#f23645" stroke-width="1.6"/>
<g clip-path="url(#fl)">
<rect x="-9" y="-9" width="18" height="18" fill="#fff"/>
<rect x="-9" y="-8.2" width="18" height="3.6" fill="#ef5350"/>
<rect x="-9" y="-1.6" width="18" height="3.6" fill="#ef5350"/>
<rect x="-9" y="4.6" width="18" height="3.6" fill="#ef5350"/>
<rect x="-9" y="-9" width="10.6" height="11" fill="#1e88e5"/>
<rect x="-5.6" y="-6.0" width="0.9" height="0.9" fill="#fff"/>
<rect x="-3.3999999999999995" y="-6.0" width="0.9" height="0.9" fill="#fff"/>
<rect x="-1.1999999999999993" y="-6.0" width="0.9" height="0.9" fill="#fff"/>
<rect x="-5.6" y="-3.6" width="0.9" height="0.9" fill="#fff"/>
<rect x="-3.3999999999999995" y="-3.6" width="0.9" height="0.9" fill="#fff"/>
<rect x="-1.1999999999999993" y="-3.6" width="0.9" height="0.9" fill="#fff"/>
<rect x="-5.6" y="-1.2000000000000002" width="0.9" height="0.9" fill="#fff"/>
<rect x="-3.3999999999999995" y="-1.2000000000000002" width="0.9" height="0.9" fill="#fff"/>
<rect x="-1.1999999999999993" y="-1.2000000000000002" width="0.9" height="0.9" fill="#fff"/>
</g></g>
<g transform="translate(1019.3,783.8)">
<circle r="10.2" fill="#fff" stroke="#f23645" stroke-width="1.6"/>
<g clip-path="url(#fl)">
<rect x="-9" y="-9" width="18" height="18" fill="#fff"/>
<rect x="-9" y="-8.2" width="18" height="3.6" fill="#ef5350"/>
<rect x="-9" y="-1.6" width="18" height="3.6" fill="#ef5350"/>
<rect x="-9" y="4.6" width="18" height="3.6" fill="#ef5350"/>
<rect x="-9" y="-9" width="10.6" height="11" fill="#1e88e5"/>
<rect x="-5.6" y="-6.0" width="0.9" height="0.9" fill="#fff"/>
<rect x="-3.3999999999999995" y="-6.0" width="0.9" height="0.9" fill="#fff"/>
<rect x="-1.1999999999999993" y="-6.0" width="0.9" height="0.9" fill="#fff"/>
<rect x="-5.6" y="-3.6" width="0.9" height="0.9" fill="#fff"/>
<rect x="-3.3999999999999995" y="-3.6" width="0.9" height="0.9" fill="#fff"/>
<rect x="-1.1999999999999993" y="-3.6" width="0.9" height="0.9" fill="#fff"/>
<rect x="-5.6" y="-1.2000000000000002" width="0.9" height="0.9" fill="#fff"/>
<rect x="-3.3999999999999995" y="-1.2000000000000002" width="0.9" height="0.9" fill="#fff"/>
<rect x="-1.1999999999999993" y="-1.2000000000000002" width="0.9" height="0.9" fill="#fff"/>
</g></g>
<g stroke="#fff" stroke-width="4.2" stroke-linejoin="round" fill="#fff"><path d="M13,768 H25 V782.7 H19.3 V773.8 H13 Z"/><circle cx="30.1" cy="770.7" r="2.9"/><path d="M35.5,768 H42.8 L37,782.7 H30.1 Z"/></g>
<g fill="#131722"><path d="M13,768 H25 V782.7 H19.3 V773.8 H13 Z"/><circle cx="30.1" cy="770.7" r="2.9"/><path d="M35.5,768 H42.8 L37,782.7 H30.1 Z"/></g>
</g>
<rect x="0" y="797" width="1" height="27" fill="#dcdfee" shape-rendering="crispEdges"/>
<text x="9.4" y="16.7" font-size="11.5" fill="#131722" textLength="54.2" lengthAdjust="spacingAndGlyphs" >O2337.65</text>
<text x="71" y="16.7" font-size="11.5" fill="#131722" textLength="53.5" lengthAdjust="spacingAndGlyphs" >H2337.91</text>
<text x="132.9" y="16.7" font-size="11.5" fill="#131722" textLength="51.2" lengthAdjust="spacingAndGlyphs" >L2320.10</text>
<text x="191.5" y="16.7" font-size="11.5" fill="#131722" textLength="53.5" lengthAdjust="spacingAndGlyphs" >C2331.24</text>
<text x="251.7" y="16.7" font-size="11.5" fill="#131722" textLength="31.2" lengthAdjust="spacingAndGlyphs" >−6.67</text>
<text x="287.9" y="16.7" font-size="11.5" fill="#131722" textLength="48.5" lengthAdjust="spacingAndGlyphs" >(−0.29%)</text>
<text x="9.7" y="40.7" font-size="11.5" fill="#2a2e39" textLength="17" lengthAdjust="spacingAndGlyphs" >MA</text>
<text x="35.3" y="40.7" font-size="11.5" fill="#2962ff" textLength="44.7" lengthAdjust="spacingAndGlyphs" >2347.63</text>
<text x="9.7" y="64.7" font-size="11.5" fill="#2a2e39" textLength="17" lengthAdjust="spacingAndGlyphs" >MA</text>
<text x="35.3" y="64.7" font-size="11.5" fill="#4caf50" textLength="44.7" lengthAdjust="spacingAndGlyphs" >2339.73</text>
<text x="9.7" y="88.7" font-size="11.5" fill="#2a2e39" textLength="17" lengthAdjust="spacingAndGlyphs" >MA</text>
<text x="35.3" y="88.7" font-size="11.5" fill="#7c4dff" textLength="44.7" lengthAdjust="spacingAndGlyphs" >2215.92</text>
<text x="9.7" y="112.7" font-size="11.5" fill="#2a2e39" textLength="17" lengthAdjust="spacingAndGlyphs" >MA</text>
<text x="35.3" y="112.7" font-size="11.5" fill="#c9cad8" textLength="44.7" lengthAdjust="spacingAndGlyphs" >2015.56</text>
<text x="9.7" y="136.7" font-size="11.5" fill="#2a2e39" textLength="17" lengthAdjust="spacingAndGlyphs" >MA</text>
<text x="35.3" y="136.7" font-size="11.5" fill="#ff9800" textLength="44.7" lengthAdjust="spacingAndGlyphs" >2124.32</text>
<rect x="10.5" y="146.5" width="28" height="20" rx="2.5" fill="#fff" fill-opacity="0.8" stroke="#d1d4dc" stroke-width="1"/>
<path d="M20.7,158.3 l3.7,-3.6 l3.7,3.6" fill="none" stroke="#131722" stroke-width="1.4"/>
<text x="1559.4" y="45.6" font-size="12.5" fill="#131722" textLength="41.5" lengthAdjust="spacingAndGlyphs" >2475.00</text>
<text x="1559.4" y="81.6" font-size="12.5" fill="#131722" textLength="41.5" lengthAdjust="spacingAndGlyphs" >2450.00</text>
<text x="1559.4" y="116.6" font-size="12.5" fill="#131722" textLength="41.5" lengthAdjust="spacingAndGlyphs" >2425.00</text>
<text x="1559.4" y="152.6" font-size="12.5" fill="#131722" textLength="41.5" lengthAdjust="spacingAndGlyphs" >2400.00</text>
<text x="1559.4" y="188.6" font-size="12.5" fill="#131722" textLength="41.5" lengthAdjust="spacingAndGlyphs" >2375.00</text>
<text x="1559.4" y="223.6" font-size="12.5" fill="#131722" textLength="41.5" lengthAdjust="spacingAndGlyphs" >2350.00</text>
<text x="1559.4" y="259.6" font-size="12.5" fill="#131722" textLength="41.5" lengthAdjust="spacingAndGlyphs" >2325.00</text>
<text x="1559.4" y="294.6" font-size="12.5" fill="#131722" textLength="41.5" lengthAdjust="spacingAndGlyphs" >2300.00</text>
<text x="1559.4" y="330.6" font-size="12.5" fill="#131722" textLength="41.5" lengthAdjust="spacingAndGlyphs" >2275.00</text>
<text x="1559.4" y="365.6" font-size="12.5" fill="#131722" textLength="41.5" lengthAdjust="spacingAndGlyphs" >2250.00</text>
<text x="1559.4" y="401.6" font-size="12.5" fill="#131722" textLength="41.5" lengthAdjust="spacingAndGlyphs" >2225.00</text>
<text x="1559.4" y="437.6" font-size="12.5" fill="#131722" textLength="41.5" lengthAdjust="spacingAndGlyphs" >2200.00</text>
<text x="1559.4" y="472.6" font-size="12.5" fill="#131722" textLength="41.5" lengthAdjust="spacingAndGlyphs" >2175.00</text>
<text x="1559.4" y="508.6" font-size="12.5" fill="#131722" textLength="41.5" lengthAdjust="spacingAndGlyphs" >2150.00</text>
<text x="1559.4" y="543.6" font-size="12.5" fill="#131722" textLength="41.5" lengthAdjust="spacingAndGlyphs" >2125.00</text>
<text x="1559.4" y="579.6" font-size="12.5" fill="#131722" textLength="41.5" lengthAdjust="spacingAndGlyphs" >2100.00</text>
<text x="1559.4" y="615.6" font-size="12.5" fill="#131722" textLength="41.5" lengthAdjust="spacingAndGlyphs" >2075.00</text>
<text x="1559.4" y="650.6" font-size="12.5" fill="#131722" textLength="41.5" lengthAdjust="spacingAndGlyphs" >2050.00</text>
<text x="1559.4" y="686.6" font-size="12.5" fill="#131722" textLength="41.5" lengthAdjust="spacingAndGlyphs" >2025.00</text>
<text x="1559.4" y="721.6" font-size="12.5" fill="#131722" textLength="41.5" lengthAdjust="spacingAndGlyphs" >2000.00</text>
<text x="1559.4" y="757.6" font-size="12.5" fill="#131722" textLength="41.5" lengthAdjust="spacingAndGlyphs" >1975.00</text>
<text x="1559.4" y="792.6" font-size="12.5" fill="#131722" textLength="41.5" lengthAdjust="spacingAndGlyphs" >1950.00</text>
<rect x="1555.5" y="-3.5" width="55" height="29" rx="4" fill="#fff" stroke="#e0e3eb" stroke-width="1"/>
<text x="1558.8" y="16.7" font-size="12.5" fill="#131722" textLength="20.5" lengthAdjust="spacingAndGlyphs" >USD</text>
<path d="M1600.6,12.2 l2.8,2.8 l2.8,-2.8" fill="none" stroke="#131722" stroke-width="1.3"/>
<path d="M1551,140 H1605 a2,2 0 0 1 2,2 V155 a2,2 0 0 1 -2,2 H1551 Z" fill="#e91e63"/>
<text x="1558.9" y="152.8" font-size="12" fill="#fff" font-weight="bold" textLength="42.2" lengthAdjust="spacingAndGlyphs" >2400.00</text>
<path d="M1551,238 H1609 a2,2 0 0 1 2,2 V267 a2,2 0 0 1 -2,2 H1551 Z" fill="#5d606b"/>
<text x="1558.8" y="251.3" font-size="12" fill="#fff" font-weight="bold" textLength="42.4" lengthAdjust="spacingAndGlyphs" >2331.24</text>
<text x="1558.8" y="265" font-size="12" fill="#fff" font-weight="bold" textLength="45.5" lengthAdjust="spacingAndGlyphs" fill-opacity="0.8">16:02:51</text>
<path d="M1551,270.5 H1605 a2,2 0 0 1 2,2 V285 a2,2 0 0 1 -2,2 H1551 Z" fill="#e91e63"/>
<text x="1558.9" y="283" font-size="12" fill="#fff" font-weight="bold" textLength="42.2" lengthAdjust="spacingAndGlyphs" >2308.54</text>
<path d="M1551,606 H1605 a2,2 0 0 1 2,2 V621 a2,2 0 0 1 -2,2 H1551 Z" fill="#e91e63"/>
<text x="1558.9" y="618.8" font-size="12" fill="#fff" font-weight="bold" textLength="42.2" lengthAdjust="spacingAndGlyphs" >2072.48</text>
<path d="M1551,738 H1605 a2,2 0 0 1 2,2 V753 a2,2 0 0 1 -2,2 H1551 Z" fill="#e91e63"/>
<text x="1558.9" y="750.8" font-size="12" fill="#fff" font-weight="bold" textLength="42.2" lengthAdjust="spacingAndGlyphs" >1980.00</text>
<text x="40.5" y="814.6" font-size="11.5" fill="#131722" text-anchor="middle" >15</text>
<text x="138" y="814.6" font-size="11.5" fill="#131722" text-anchor="middle" >Dec</text>
<text x="228" y="814.6" font-size="11.5" fill="#131722" text-anchor="middle" >18</text>
<text x="310.5" y="814.6" font-size="11.5" fill="#131722" font-weight="bold" text-anchor="middle" textLength="27.8" lengthAdjust="spacingAndGlyphs" >2024</text>
<text x="392" y="814.6" font-size="11.5" fill="#131722" text-anchor="middle" >15</text>
<text x="497.5" y="814.6" font-size="11.5" fill="#131722" text-anchor="middle" >Feb</text>
<text x="580" y="814.6" font-size="11.5" fill="#131722" text-anchor="middle" >15</text>
<text x="669.5" y="814.6" font-size="11.5" fill="#131722" text-anchor="middle" >Mar</text>
<text x="759" y="814.6" font-size="11.5" fill="#131722" text-anchor="middle" >18</text>
<text x="840.5" y="814.6" font-size="11.5" fill="#131722" text-anchor="middle" >Apr</text>
<text x="922.5" y="814.6" font-size="11.5" fill="#131722" text-anchor="middle" >15</text>
<text x="1019.3" y="814.6" font-size="11.5" fill="#131722" text-anchor="middle" >May</text>
<text x="1126" y="814.6" font-size="11.5" fill="#131722" text-anchor="middle" >20</text>
<text x="1207" y="814.6" font-size="11.5" fill="#131722" text-anchor="middle" >Jun</text>
<text x="1288.5" y="814.6" font-size="11.5" fill="#131722" text-anchor="middle" >17</text>
<text x="1370" y="814.6" font-size="11.5" fill="#131722" text-anchor="middle" >Jul</text>
<text x="1451.5" y="814.6" font-size="11.5" fill="#131722" text-anchor="middle" >15</text>
<path d="M1576.3,811.5 L1580,805.2 H1587.5 L1591.1,811.5 L1587.5,817.9 H1580 Z" fill="none" stroke="#131722" stroke-width="1.2" stroke-linejoin="round"/><circle cx="1583.7" cy="811.5" r="2.1" fill="none" stroke="#131722" stroke-width="1.2"/>
</svg></body></html>
